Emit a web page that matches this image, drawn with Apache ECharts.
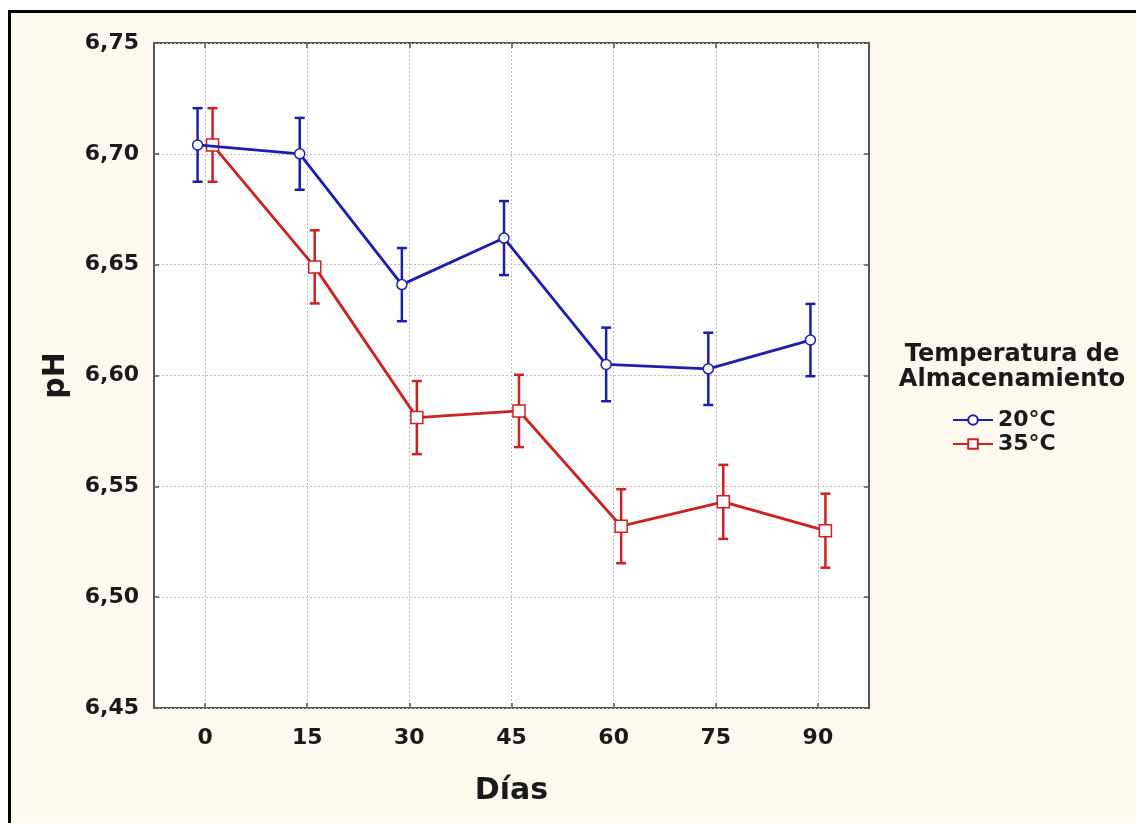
<!DOCTYPE html>
<html>
<head>
<meta charset="utf-8">
<script src="https://cdn.jsdelivr.net/npm/echarts@6/dist/echarts.min.js"></script>
<style>
html,body{margin:0;padding:0;background:#fff;}
#c{width:1136px;height:823px;}
</style>
</head>
<body>
<div id="c"></div>
<script>
var days = [0, 15, 30, 45, 60, 75, 90];
var yTicks = [6.45, 6.50, 6.55, 6.60, 6.65, 6.70, 6.75];
var seriesNames = ['20°C', '35°C'];
var legendTitle = 'Temperatura de\nAlmacenamiento';
var ph20 = [6.704, 6.700, 6.641, 6.662, 6.605, 6.603, 6.616];
var ph35 = [6.704, 6.649, 6.581, 6.584, 6.532, 6.543, 6.530];
var err20 = [0.0166, 0.0162, 0.0165, 0.0167, 0.0166, 0.0163, 0.0163];
var err35 = [0.0166, 0.0165, 0.0165, 0.0163, 0.0167, 0.0167, 0.0167];

var BLUE = '#1e1eaa';
var RED = '#cc2222';
var DODGE = 1.1; // horizontal dodge in days
var FONT = '"DejaVu Sans"';

function pts(vals, off) {
  return vals.map(function (v, i) { return [days[i] + off, v]; });
}
function errs(vals, e, off) {
  return vals.map(function (v, i) { return [days[i] + off, v - e[i], v + e[i]]; });
}
function errRender(color) {
  return function (params, api) {
    var x = api.value(0);
    var lo = api.coord([x, api.value(1)]);
    var hi = api.coord([x, api.value(2)]);
    var cap = 5;
    var st = { stroke: color, lineWidth: 2.5 };
    return {
      type: 'group',
      children: [
        { type: 'line', shape: { x1: lo[0], y1: lo[1], x2: hi[0], y2: hi[1] }, style: st },
        { type: 'line', shape: { x1: lo[0] - cap, y1: lo[1], x2: lo[0] + cap, y2: lo[1] }, style: st },
        { type: 'line', shape: { x1: hi[0] - cap, y1: hi[1], x2: hi[0] + cap, y2: hi[1] }, style: st }
      ]
    };
  };
}

var chart = echarts.init(document.getElementById('c'));
var lblFont = { fontFamily: FONT, fontWeight: 'bold', color: '#1a1a1a' };
var grid = { color: '#bdbdbd', type: [2, 2], width: 1 };
var tickStyle = { color: '#555', width: 1.5 };

chart.setOption({
  backgroundColor: '#ffffff',
  animation: false,
  graphic: [
    { type: 'rect', z: -10, shape: { x: 9.5, y: 11.5, width: 1200, height: 900 },
      style: { fill: '#fef9ee', stroke: '#000', lineWidth: 3 } },
    { type: 'text', z: 10, x: 1012, y: 342,
      style: { text: legendTitle, textAlign: 'center', textVerticalAlign: 'top',
        fontFamily: FONT, fontWeight: 'bold', fontSize: 24, fill: '#1a1a1a', lineHeight: 25 } }
  ],
  grid: { left: 154, top: 43, right: 267, bottom: 115, show: true,
    backgroundColor: '#ffffff', borderColor: '#555555', borderWidth: 2 },
  legend: {
    orient: 'vertical', left: 947, top: 404, itemGap: 2, itemWidth: 40, itemHeight: 12,
    data: seriesNames,
    textStyle: { fontFamily: FONT, fontWeight: 'bold', fontSize: 22, color: '#1a1a1a' }
  },
  xAxis: [{
    type: 'value', min: -7.5, max: 97.5,
    name: 'Días', nameLocation: 'middle', nameGap: 68,
    nameTextStyle: { fontFamily: FONT, fontWeight: 'bold', fontSize: 30, color: '#1a1a1a' },
    axisLine: { show: false, onZero: false },
    axisTick: { show: true, inside: true, length: 5, customValues: days, lineStyle: tickStyle },
    axisLabel: Object.assign({ customValues: days, fontSize: 22, margin: 19 }, lblFont),
    splitLine: { show: true, customValues: days, lineStyle: grid }
  }, {
    type: 'value', min: -7.5, max: 97.5, position: 'top',
    axisLine: { show: false, onZero: false },
    axisTick: { show: true, inside: true, length: 5, customValues: days, lineStyle: tickStyle },
    axisLabel: { show: false, customValues: days },
    splitLine: { show: false }
  }],
  yAxis: [{
    type: 'value', min: 6.45, max: 6.75, interval: 0.05, position: 'left',
    name: 'pH', nameLocation: 'middle', nameGap: 83, nameRotate: 90,
    nameTextStyle: { fontFamily: FONT, fontWeight: 'bold', fontSize: 30, color: '#1a1a1a' },
    axisLine: { show: false, onZero: false },
    axisTick: { show: true, inside: true, length: 5, lineStyle: tickStyle },
    axisLabel: Object.assign({ fontSize: 22, margin: 15,
      formatter: function (v) { return v.toFixed(2).replace('.', ','); } }, lblFont),
    splitLine: { show: true, lineStyle: grid }
  }, {
    type: 'value', min: 6.45, max: 6.75, interval: 0.05, position: 'right',
    axisLine: { show: false, onZero: false },
    axisTick: { show: true, inside: true, length: 5, lineStyle: tickStyle },
    axisLabel: { show: false }, splitLine: { show: false }
  }],
  series: [
    { type: 'custom', name: seriesNames[0] + ' err', z: 1, renderItem: errRender(BLUE),
      data: errs(ph20, err20, -DODGE), encode: { x: 0, y: [1, 2] } },
    { type: 'custom', name: seriesNames[1] + ' err', z: 1, renderItem: errRender(RED),
      data: errs(ph35, err35, DODGE), encode: { x: 0, y: [1, 2] } },
    { type: 'line', name: seriesNames[1], data: pts(ph35, DODGE), z: 3,
      symbol: 'rect', symbolSize: 12, showAllSymbol: true,
      lineStyle: { color: RED, width: 2.8 },
      itemStyle: { color: '#ffffff', borderColor: RED, borderWidth: 1.5 } },
    { type: 'line', name: seriesNames[0], data: pts(ph20, -DODGE), z: 4,
      symbol: 'circle', symbolSize: 10, showAllSymbol: true,
      lineStyle: { color: BLUE, width: 2.8 },
      itemStyle: { color: '#ffffff', borderColor: BLUE, borderWidth: 1.5 } }
  ]
});
</script>
</body>
</html>
